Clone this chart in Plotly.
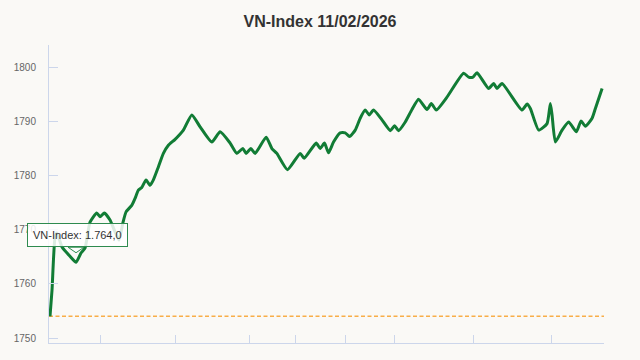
import plotly.graph_objects as go

# time position (session index) and VN-Index values
t = [1, 3, 6, 8, 13, 21, 27, 32, 36, 41, 47.7, 51, 55.3, 61, 66, 70, 74, 77, 82.7, 86,
     89.3, 92.7, 97, 101, 104.3, 109.3, 114.3, 119.3, 126, 134.3, 142.7, 151, 162.7, 171,
     181, 187.7, 193.7, 197, 201.7, 206, 217, 222.7, 227.7, 238.3, 251, 255, 267, 271,
     275.3, 279.3, 284.3, 291, 296, 300.3, 306, 311, 316, 320, 324.3, 332.7, 341, 345.3,
     349.3, 356, 362.7, 369.3, 377.7, 382, 387, 397.7, 414.3, 419.3, 423.7, 427.7, 439.3,
     444.3, 447.7, 452.7, 472.7, 477.7, 481, 489.3, 497.7, 501, 502.7, 506, 512.7, 519.3,
     527, 531.7, 536, 542.7, 546, 552.7]
vnindex = [1754.0, 1758.8, 1768.6, 1769.4, 1766.8, 1765.1, 1764.0, 1765.7, 1766.6, 1771.4,
           1773.1, 1772.4, 1773.1, 1771.8, 1769.6, 1768.1, 1771.4, 1773.3, 1774.5, 1775.8,
           1777.3, 1777.8, 1779.2, 1778.2, 1779.2, 1781.6, 1784.1, 1785.6, 1786.7, 1788.4,
           1791.2, 1789.0, 1786.2, 1788.1, 1786.0, 1784.1, 1785.0, 1784.1, 1785.0, 1784.1,
           1787.1, 1785.0, 1784.1, 1781.1, 1784.1, 1783.2, 1786.0, 1785.0, 1786.0, 1784.2,
           1786.2, 1787.9, 1787.9, 1787.2, 1788.4, 1790.6, 1792.1, 1791.2, 1792.1, 1790.3,
           1788.3, 1789.2, 1788.3, 1789.9, 1792.2, 1794.1, 1792.2, 1793.3, 1792.1, 1794.5,
           1798.9, 1798.2, 1798.2, 1799.0, 1796.1, 1797.0, 1796.1, 1797.0, 1792.1, 1793.2,
           1792.4, 1788.4, 1789.6, 1793.3, 1791.2, 1786.2, 1788.4, 1789.9, 1788.1, 1790.1,
           1789.1, 1790.6, 1792.4, 1796.1]
reference_value = 1754.0
y_ticks = [1750, 1760, 1770, 1780, 1790, 1800]
x_ticks = [51.7, 126, 200.6, 246, 296, 345, 424, 502.5]
hover_index = 6

GREEN = "#117c35"
TIP_BORDER = "#2e8b4f"
AXIS = "#ccd6eb"
BG = "#faf9f6"

fig = go.Figure()
fig.add_trace(go.Scatter(
    x=t, y=vnindex, mode="lines",
    line=dict(color=GREEN, width=3, shape="spline", smoothing=0.5),
    hoverinfo="skip", showlegend=False,
))

fig.add_shape(type="line", xref="paper", x0=0, x1=1, yref="y",
              y0=reference_value, y1=reference_value,
              line=dict(color="#f8ae48", width=1.5, dash="4px,2.5px"), layer="below")

val = vnindex[hover_index]
label = f"{val:,.1f}".replace(",", "X").replace(".", ",").replace("X", ".")

# tooltip callout pointer (pixel offsets relative to the hovered point)
fig.add_shape(type="path", xref="x", yref="y",
              xsizemode="pixel", ysizemode="pixel",
              xanchor=t[hover_index], yanchor=val,
              path="M -8,15 L 0,9.5 L 8,15 Z",
              fillcolor="rgba(255,255,255,0.85)", line=dict(color=TIP_BORDER, width=1),
              layer="above")

fig.add_annotation(
    x=t[hover_index], y=val, xref="x", yref="y",
    text=f"VN-Index: {label}", showarrow=False,
    xshift=1, yshift=27.5, xanchor="center", yanchor="middle",
    font=dict(family="Liberation Sans, Arial", size=11, color="#333333"),
    bgcolor="rgba(255,255,255,0.85)", bordercolor=TIP_BORDER, borderwidth=1, borderpad=5,
)

fig.update_layout(
    width=640, height=360,
    margin=dict(l=49, r=36, t=45, b=17),
    paper_bgcolor=BG, plot_bgcolor=BG,
    hovermode=False,
    title=dict(text="<b>VN-Index 11/02/2026</b>", x=0.5, xanchor="center",
               y=1 - 21 / 360, yanchor="middle", yref="container",
               font=dict(family="Liberation Sans, Arial", size=16, color="#333333")),
    xaxis=dict(range=[0, 554.6], tickvals=x_ticks, showticklabels=False,
               ticks="inside", ticklen=8, tickcolor=AXIS, tickwidth=1,
               showline=True, linecolor=AXIS, linewidth=1,
               showgrid=False, zeroline=False, fixedrange=True),
    yaxis=dict(range=[1749.08, 1804.12], tickvals=y_ticks,
               ticktext=[str(v) for v in y_ticks],
               ticks="inside", ticklen=9, tickcolor=AXIS, tickwidth=1,
               showline=True, linecolor=AXIS, linewidth=1,
               ticklabelstandoff=10,
               tickfont=dict(family="Liberation Sans, Arial", size=10, color="#666666"),
               showgrid=False, zeroline=False, fixedrange=True),
)

fig.write_html("out.html")
